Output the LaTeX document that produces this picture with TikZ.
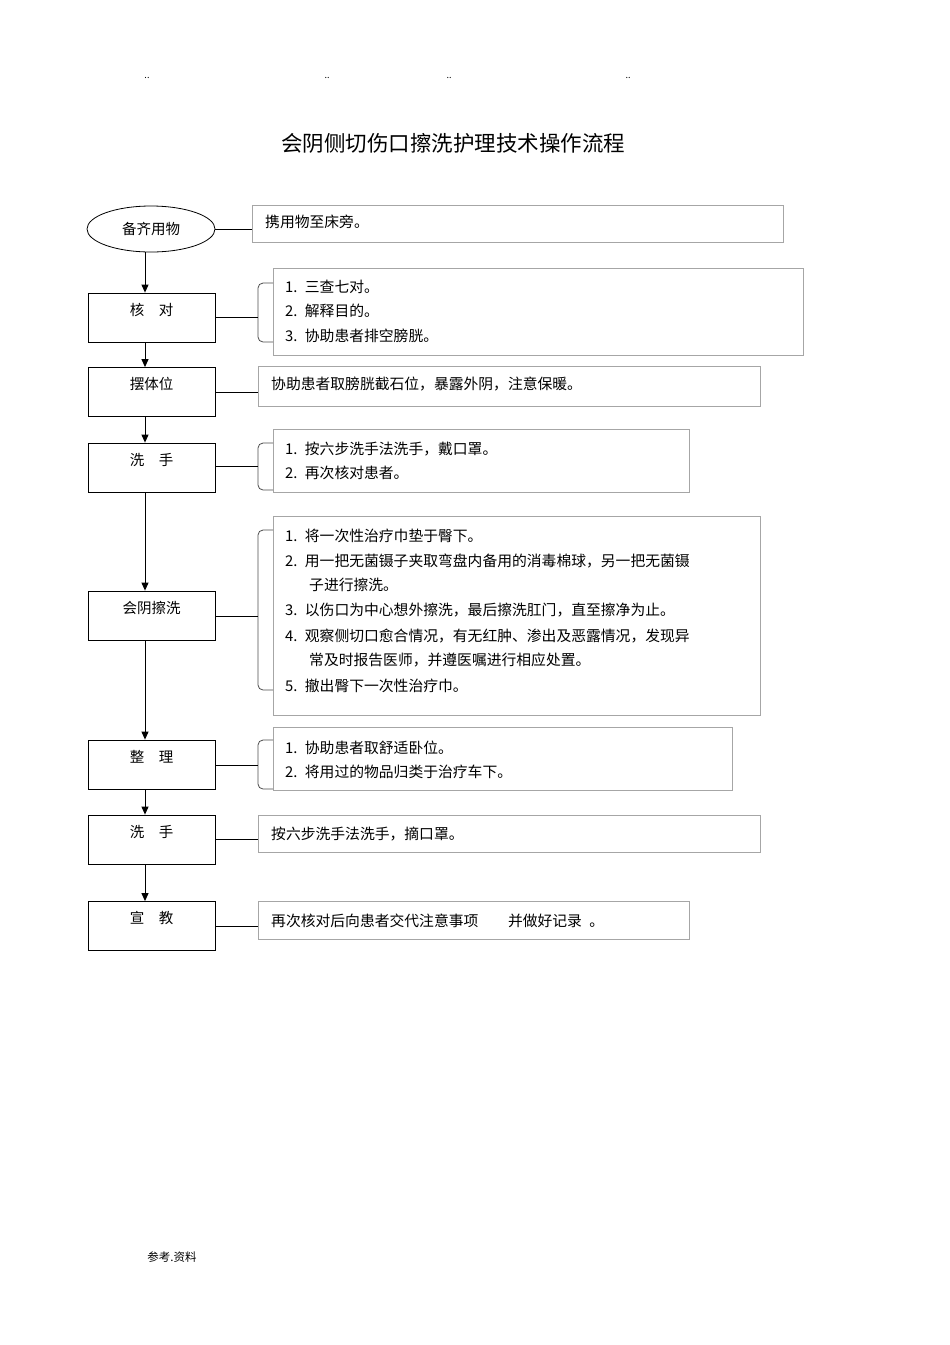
\documentclass[tikz,border=0pt]{standalone}
\usepackage{fontspec}
\setmainfont{Noto Sans CJK SC}
\usetikzlibrary{arrows.meta,shapes.geometric}
\begin{document}
\begin{tikzpicture}[x=1pt,y=-1pt,
  stepbox/.style={draw,line width=0.8pt,minimum width=127pt,minimum height=49pt,inner sep=0pt,text depth=17pt,font=\fontsize{14.5}{16}\selectfont},
  txtbox/.style={draw=black!35,line width=0.6pt},
  txt/.style={anchor=west,inner sep=0pt,font=\fontsize{14.8}{16}\selectfont},
  conn/.style={line width=0.8pt},
  arr/.style={line width=1pt,-{Triangle[length=8pt,width=7pt]}},
  br/.style={line width=0.8pt,black!70}]
\useasboundingbox (0,0) rectangle (950,1345);
\foreach \x [count=\i] in {147,327,449,628} \node[font=\small] (dot\i) at (\x,78) {..};
\node[font=\fontsize{21.5}{24}\selectfont] (title) at (453,143) {会阴侧切伤口擦洗护理技术操作流程};
\node[font=\fontsize{11.5}{13}\selectfont] (foot) at (172,1257) {参考.资料};
% step nodes
\node[draw,ellipse,line width=0.8pt,minimum width=128pt,minimum height=46pt,inner sep=0pt,font=\fontsize{14.5}{16}\selectfont] (s1) at (151,229) {备齐用物};
\node[stepbox] (s2) at (151.5,317.5) {核\quad 对};
\node[stepbox] (s3) at (151.5,392) {摆体位};
\node[stepbox] (s4) at (151.5,467.5) {洗\quad 手};
\node[stepbox] (s5) at (151.5,615.5) {会阴擦洗};
\node[stepbox] (s6) at (151.5,764.5) {整\quad 理};
\node[stepbox] (s7) at (151.5,839.5) {洗\quad 手};
\node[stepbox] (s8) at (151.5,926) {宣\quad 教};
\foreach \a/\b in {s1/s2,s2/s3,s3/s4,s4/s5,s5/s6,s6/s7,s7/s8}
  \draw[arr] (\a.south -| 145,0) -- (\b.north -| 145,0);
% text boxes
\draw[txtbox] (252,205) rectangle (783,242);
\draw[txtbox] (273,268) rectangle (803,355);
\draw[txtbox] (258,366) rectangle (760,406);
\draw[txtbox] (273,429) rectangle (689,492);
\draw[txtbox] (273,516) rectangle (760,715);
\draw[txtbox] (273,727) rectangle (732,790);
\draw[txtbox] (258,815) rectangle (760,852);
\draw[txtbox] (258,901) rectangle (689,939);
% braces
\foreach \t/\b/\n in {283/342/b2,443/490/b4,530/690/b5,740/789/b6}{
  \draw[br] (273,\t) -- (263,\t) to[out=180,in=90] (258,\t+5) -- (258,\b-5) to[out=-90,in=180] (263,\b) -- (273,\b);
}
\coordinate (c1) at (252,229);
\coordinate (c2) at (258,317);
\coordinate (c3) at (258,392);
\coordinate (c4) at (258,466);
\coordinate (c5) at (258,616);
\coordinate (c6) at (258,765);
\coordinate (c7) at (258,839);
\coordinate (c8) at (258,926);
\draw[conn] (s1.east) -- (c1);
\foreach \i in {2,...,8} \draw[conn] (s\i.east |- c\i) -- (c\i);
% texts
\node[txt] (t1) at (265,222) {携用物至床旁。};
\node[txt] (t2a) at (285,287) {1.\enspace 三查七对。};
\node[txt] (t2b) at (285,311) {2.\enspace 解释目的。};
\node[txt] (t2c) at (285,336) {3.\enspace 协助患者排空膀胱。};
\node[txt] (t3) at (271,384) {协助患者取膀胱截石位，暴露外阴，注意保暖。};
\node[txt] (t4a) at (285,449) {1.\enspace 按六步洗手法洗手，戴口罩。};
\node[txt] (t4b) at (285,473) {2.\enspace 再次核对患者。};
\node[txt] (t5a) at (285,536) {1.\enspace 将一次性治疗巾垫于臀下。};
\node[txt] (t5b) at (285,561) {2.\enspace 用一把无菌镊子夹取弯盘内备用的消毒棉球，另一把无菌镊};
\node[txt] (t5c) at (309,585) {子进行擦洗。};
\node[txt] (t5d) at (285,610) {3.\enspace 以伤口为中心想外擦洗，最后擦洗肛门，直至擦净为止。};
\node[txt] (t5e) at (285,636) {4.\enspace 观察侧切口愈合情况，有无红肿、渗出及恶露情况，发现异};
\node[txt] (t5f) at (309,660) {常及时报告医师，并遵医嘱进行相应处置。};
\node[txt] (t5g) at (285,686) {5.\enspace 撤出臀下一次性治疗巾。};
\node[txt] (t6a) at (285,748) {1.\enspace 协助患者取舒适卧位。};
\node[txt] (t6b) at (285,772) {2.\enspace 将用过的物品归类于治疗车下。};
\node[txt] (t7) at (271,834) {按六步洗手法洗手，摘口罩。};
\node[txt] (t8) at (271,921) {再次核对后向患者交代注意事项\qquad 并做好记录\enspace 。};
\end{tikzpicture}
\end{document}
